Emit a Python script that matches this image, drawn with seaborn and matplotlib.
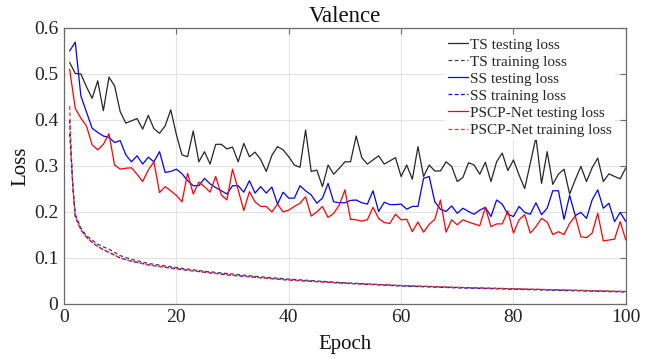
import matplotlib
matplotlib.use("Agg")
import matplotlib.pyplot as plt
import seaborn as sns

# testing loss, one value per epoch (1..100)
epochs = list(range(1, 101))

ts_test = [0.525, 0.501, 0.500, 0.472, 0.447, 0.485, 0.420, 0.493, 0.474, 0.418,
           0.393, 0.398, 0.403, 0.380, 0.410, 0.381, 0.371, 0.387, 0.422, 0.368,
           0.324, 0.320, 0.376, 0.309, 0.331, 0.304, 0.347, 0.347, 0.337, 0.341,
           0.309, 0.349, 0.320, 0.330, 0.314, 0.288, 0.323, 0.342, 0.335, 0.320,
           0.302, 0.297, 0.378, 0.288, 0.291, 0.255, 0.302, 0.282, 0.295, 0.309,
           0.309, 0.365, 0.318, 0.304, 0.313, 0.322, 0.304, 0.311, 0.318, 0.277,
           0.302, 0.271, 0.342, 0.277, 0.302, 0.289, 0.289, 0.309, 0.299, 0.266,
           0.275, 0.307, 0.302, 0.282, 0.308, 0.266, 0.309, 0.328, 0.290, 0.313,
           0.280, 0.251, 0.306, 0.362, 0.262, 0.331, 0.260, 0.282, 0.293, 0.239,
           0.270, 0.299, 0.266, 0.296, 0.317, 0.266, 0.283, 0.277, 0.272, 0.296]

ss_test = [0.550, 0.569, 0.452, 0.417, 0.382, 0.373, 0.365, 0.362, 0.351, 0.355,
           0.324, 0.309, 0.322, 0.304, 0.319, 0.309, 0.331, 0.286, 0.288, 0.293,
           0.283, 0.268, 0.257, 0.257, 0.273, 0.261, 0.253, 0.246, 0.239, 0.257,
           0.257, 0.243, 0.268, 0.241, 0.255, 0.241, 0.254, 0.217, 0.243, 0.230,
           0.230, 0.257, 0.246, 0.237, 0.219, 0.230, 0.262, 0.222, 0.220, 0.220,
           0.225, 0.226, 0.220, 0.217, 0.246, 0.201, 0.221, 0.216, 0.216, 0.217,
           0.206, 0.212, 0.212, 0.273, 0.277, 0.222, 0.206, 0.201, 0.213, 0.197,
           0.208, 0.201, 0.195, 0.204, 0.210, 0.190, 0.226, 0.217, 0.195, 0.190,
           0.212, 0.199, 0.195, 0.220, 0.194, 0.208, 0.246, 0.246, 0.184, 0.236,
           0.192, 0.199, 0.186, 0.226, 0.248, 0.208, 0.219, 0.179, 0.199, 0.179]

pscp_test = [0.510, 0.425, 0.404, 0.387, 0.346, 0.335, 0.347, 0.370, 0.302, 0.293,
             0.295, 0.296, 0.282, 0.266, 0.291, 0.309, 0.242, 0.255, 0.246, 0.236,
             0.222, 0.284, 0.239, 0.265, 0.255, 0.243, 0.277, 0.237, 0.226, 0.293,
             0.248, 0.203, 0.244, 0.222, 0.212, 0.212, 0.200, 0.217, 0.200, 0.204,
             0.212, 0.219, 0.233, 0.191, 0.200, 0.212, 0.188, 0.197, 0.215, 0.248,
             0.184, 0.183, 0.180, 0.183, 0.210, 0.186, 0.177, 0.175, 0.195, 0.183,
             0.184, 0.157, 0.178, 0.156, 0.173, 0.184, 0.226, 0.156, 0.183, 0.172,
             0.183, 0.178, 0.174, 0.170, 0.210, 0.168, 0.174, 0.174, 0.202, 0.154,
             0.183, 0.194, 0.154, 0.168, 0.186, 0.178, 0.151, 0.157, 0.151, 0.175,
             0.191, 0.146, 0.144, 0.154, 0.197, 0.137, 0.139, 0.141, 0.179, 0.139]

# training loss, read at these epochs
train_epochs = [1, 1.3, 1.6, 2, 3, 4, 5, 6, 7, 8, 10, 12, 15, 20, 25, 30, 35, 40,
                50, 60, 70, 80, 90, 100]
ts_train = [0.370, 0.310, 0.250, 0.195, 0.165, 0.148, 0.139, 0.130, 0.124, 0.119,
            0.105, 0.097, 0.088, 0.079, 0.071, 0.065, 0.059, 0.054, 0.046, 0.040,
            0.036, 0.033, 0.030, 0.027]
ss_train = [0.400, 0.320, 0.250, 0.190, 0.161, 0.145, 0.134, 0.125, 0.118, 0.112,
            0.100, 0.093, 0.085, 0.076, 0.069, 0.062, 0.057, 0.052, 0.045, 0.039,
            0.035, 0.032, 0.029, 0.026]
pscp_train = [0.430, 0.320, 0.250, 0.190, 0.161, 0.145, 0.134, 0.125, 0.118, 0.112,
              0.100, 0.093, 0.085, 0.077, 0.069, 0.063, 0.057, 0.052, 0.045, 0.040,
              0.036, 0.033, 0.030, 0.027]

x_ticks = [0, 20, 40, 60, 80, 100]
y_ticks = [0, 0.1, 0.2, 0.3, 0.4, 0.5, 0.6]
y_tick_labels = ["0", "0.1", "0.2", "0.3", "0.4", "0.5", "0.6"]

sns.set_style("white")
plt.rcParams["font.family"] = ["Liberation Serif", "DejaVu Serif"]

fig, ax = plt.subplots(figsize=(6.56, 3.58), dpi=100)
fig.subplots_adjust(left=0.0976, right=0.954, top=0.922, bottom=0.151)

dash = (3, 2)
sns.lineplot(x=epochs, y=ts_test, ax=ax, color="#262626", lw=0.9, label="TS testing loss")
sns.lineplot(x=train_epochs, y=ts_train, ax=ax, color="#404040", lw=0.9,
             label="TS training loss")
sns.lineplot(x=epochs, y=ss_test, ax=ax, color="#0000ff", lw=0.9, label="SS testing loss")
sns.lineplot(x=train_epochs, y=ss_train, ax=ax, color="#0000ff", lw=0.9,
             label="SS training loss")
sns.lineplot(x=epochs, y=pscp_test, ax=ax, color="#ff0000", lw=0.9, label="PSCP-Net testing loss")
sns.lineplot(x=train_epochs, y=pscp_train, ax=ax, color="#ff3030", lw=0.9,
             label="PSCP-Net training loss")

# dashed style for training lines
for line in ax.get_lines():
    if "training" in line.get_label():
        line.set_linestyle((0, dash))

ax.set_xlim(0, 100)
ax.set_ylim(0, 0.6)
ax.set_xticks(x_ticks)
ax.set_yticks(y_ticks)
ax.set_yticklabels(y_tick_labels)
ax.grid(True, color="#e3e3e3", lw=0.8)
ax.set_axisbelow(True)

for sp in ax.spines.values():
    sp.set_color("#6b6b6b")
    sp.set_linewidth(0.9)
ax.tick_params(direction="in", length=4, width=0.8, color="#6b6b6b",
               top=True, right=True, labelsize=14, pad=4, labelcolor="#222222")

ax.set_title("Valence", fontsize=16.5, pad=4, color="#111111")
ax.set_xlabel("Epoch", fontsize=15, labelpad=6, color="#111111")
ax.set_ylabel("Loss", fontsize=15, labelpad=3, color="#111111")

leg = ax.legend(loc="upper left", bbox_to_anchor=(0.678, 0.975), fontsize=11,
                frameon=True, fancybox=False, framealpha=1, edgecolor="white",
                handlelength=1.3, handletextpad=0.15, labelspacing=0.22,
                borderpad=0.2, borderaxespad=0)
leg.get_frame().set_linewidth(0)

fig.savefig("out.png", dpi=100)
